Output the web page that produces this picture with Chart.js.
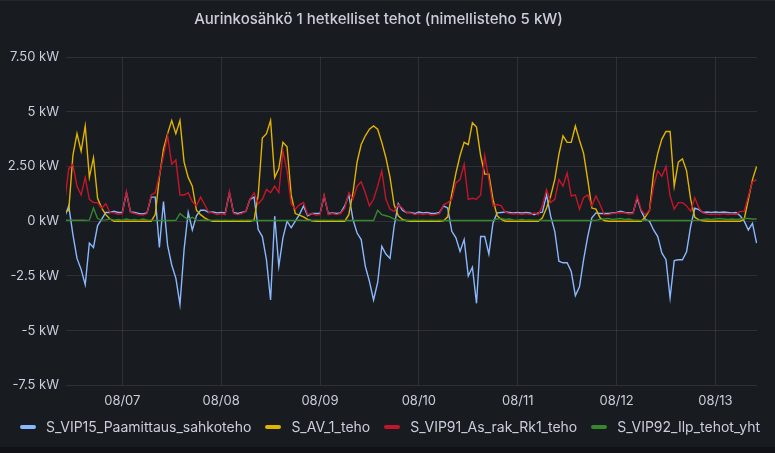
<!DOCTYPE html>
<html>
<head>
<meta charset="utf-8">
<script src="https://cdn.jsdelivr.net/npm/chart.js@4.4.1/dist/chart.umd.min.js"></script>
<style>
  html, body { margin: 0; padding: 0; background: #111217; }
  #panel { position: absolute; left: 0; top: 0; width: 775px; height: 447px; background: #181b1f; border-top: 1px solid #24262b; box-sizing: border-box; }
  #chart { position: absolute; left: 0; top: 0; }
  #legend { position: absolute; left: 20px; top: 418px; display: flex; font: 14px Inter, sans-serif; color: #ccccdc; white-space: nowrap; }
  .item { display: flex; align-items: center; margin-right: 14px; }
  .mark { width: 16px; height: 4px; border-radius: 2px; margin-right: 10px; }
</style>
</head>
<body>
<div id="panel"></div>
<canvas id="chart" width="775" height="447"></canvas>
<div id="legend"></div>
<script>
const chartTitle = "Aurinkosähkö 1 hetkelliset tehot (nimellisteho 5 kW)";

// hourly samples, first sample is 08/06 10:00 (hours counted from 08/06 00:00)
const startHour = 10;

const seriesNames = ["S_VIP15_Paamittaus_sahkoteho", "S_AV_1_teho", "S_VIP91_As_rak_Rk1_teho", "S_VIP92_Ilp_tehot_yht"];
const seriesColors = ["#8AB8FF", "#E0B400", "#C4162A", "#37872D"];

// kW
const vip15 = [
  0.2, 0.7, -0.6, -1.7, -2.2, -2.9, -1.0, -1.2, -0.2, 0.1, 0.4, 0.4, 0.45, 0.4,
  0.4, 1.3, 0.42, 0.4, 0.35, 0.33, 0.38, 1.1, 1.1, -1.2, 0.9, -1.1, -2.0, -2.6, -3.8, -1.3, 0.4, -0.4, 0.25, 0.5, 0.5, 0.4, 0.42, 0.38,
  0.4, 0.38, 1.3, 0.4, 0.35, 0.4, 0.45, 1.0, 1.1, -0.38, -0.7, -1.76, -3.6, 0.23, -2.06, -0.76, 0.0, -0.3, 0.0, 0.3, 0.7, 0.25, 0.35, 0.35,
  0.35, 1.15, 0.35, 0.38, 0.35, 0.38, 0.7, 1.2, 0.08, -0.54, -0.84, -2.06, -2.75, -3.6, -2.8, -1.15, -1.5, -1.7, -0.23, 0.8, 0.5, 0.4, 0.4, 0.35,
  0.42, 0.38, 0.4, 0.35, 0.35, 0.4, 0.7, 0.6, -0.46, -0.76, -1.38, -0.84, -2.5, -2.1, -3.75, -0.7, -0.7, -1.5, -0.08, 0.38, 0.4, 0.42, 0.4, 0.38,
  0.4, 0.38, 0.4, 0.38, 0.3, 0.38, 0.41, 1.2, 0.23, -0.46, -1.83, -1.9, -1.9, -2.3, -3.4, -3.0, -1.76, -0.7, 0.15, 0.38, 0.35, 0.35, 0.35, 0.38,
  0.4, 0.45, 0.4, 0.38, 0.38, 1.05, 0.45, 0.08, 0.0, -0.4, -0.7, -1.45, -1.76, -3.5, -1.8, -1.76, -1.76, -1.4, -0.23, 0.6, 0.53, 0.4, 0.42, 0.4,
  0.42, 0.4, 0.42, 0.4, 0.38, 0.4, 0.25, 0.0, -0.4, -0.1, -1.0
];

const av1 = [
  0.4, 0.5, 3.0, 4.0, 3.2, 4.35, 2.0, 2.9, 1.05, 0.6, 0.3, 0.1, 0, 0,
  0, 0, 0, 0, 0, 0, 0, 0, 0.3, 2.0, 3.3, 4.0, 4.6, 4.0, 4.6, 2.7, 2.0, 1.6, 0.5, 0.3, 0.15, 0.05, 0, 0,
  0, 0, 0, 0, 0, 0, 0, 0, 0.05, 1.2, 3.8, 4.0, 4.6, 2.0, 2.4, 3.6, 3.4, 1.2, 0.35, 0.28, 0.2, 0.08, 0.02, 0,
  0, 0, 0, 0, 0, 0, 0, 0.3, 1.3, 2.7, 3.5, 3.9, 4.2, 4.35, 4.2, 3.6, 2.9, 2.0, 0.75, 0.25, 0.08, 0.02, 0, 0,
  0, 0, 0, 0, 0, 0, 0.02, 0.2, 1.25, 2.2, 3.0, 3.6, 3.5, 4.5, 4.3, 3.0, 2.15, 2.15, 1.0, 0.25, 0.08, 0, 0, 0,
  0, 0, 0, 0, 0, 0, 0.15, 0.6, 1.15, 1.9, 3.05, 3.9, 3.6, 3.6, 4.35, 3.7, 3.1, 1.9, 0.6, 0.55, 0.15, 0.03, 0, 0,
  0, 0, 0, 0, 0, 0, 0, 0.2, 0.5, 2.2, 3.1, 3.75, 4.1, 4.1, 1.6, 2.7, 2.85, 2.3, 1.0, 0.18, 0.06, 0.02, 0, 0,
  0, 0, 0, 0, 0, 0, 0, 0.1, 1.0, 1.9, 2.5
];

const vip91 = [
  0.85, 2.4, 2.6, 1.6, 1.2, 2.0, 1.0, 0.85, 0.85, 0.6, 0.8, 0.4, 0.38, 0.32,
  0.35, 1.35, 0.4, 0.35, 0.3, 0.28, 0.35, 1.2, 1.3, 2.1, 3.0, 3.9, 2.6, 2.8, 1.2, 1.2, 1.3, 0.9, 0.7, 1.1, 0.75, 0.4, 0.38, 0.3,
  0.35, 0.3, 1.35, 0.35, 0.3, 0.35, 0.45, 1.0, 1.3, 0.8, 1.0, 1.45, 1.3, 1.6, 1.3, 3.2, 2.3, 0.8, 0.55, 0.75, 0.85, 0.3, 0.35, 0.28,
  0.3, 1.2, 0.3, 0.35, 0.3, 0.35, 0.6, 1.3, 1.0, 1.6, 1.8, 1.3, 0.7, 1.0, 1.6, 2.3, 1.0, 0.55, 0.45, 0.75, 0.6, 0.4, 0.38, 0.3,
  0.35, 0.3, 0.35, 0.28, 0.3, 0.35, 0.75, 0.85, 1.0, 1.75, 1.9, 2.6, 1.0, 1.05, 1.0, 1.2, 3.0, 1.9, 0.7, 0.76, 0.7, 0.4, 0.35, 0.33,
  0.35, 0.3, 0.35, 0.3, 0.38, 0.3, 0.7, 1.45, 0.85, 1.0, 1.9, 1.6, 2.2, 1.15, 1.2, 0.55, 1.07, 1.2, 0.7, 1.15, 0.76, 0.3, 0.3, 0.35,
  0.38, 0.4, 0.38, 0.33, 0.35, 1.15, 0.5, 0.3, 0.5, 1.6, 2.3, 2.05, 2.5, 1.15, 0.55, 0.85, 0.85, 0.7, 0.45, 1.07, 0.6, 0.38, 0.33, 0.3,
  0.33, 0.3, 0.35, 0.3, 0.33, 0.3, 0.45, 0.45, 1.15, 1.8, 1.9
];

const vip92 = [
  0.04, 0.04, 0.04, 0.04, 0.04, 0.04, 0.05, 0.6, 0.12, 0.05, 0.06, 0.1, 0.05, 0.08,
  0.05, 0.1, 0.06, 0.08, 0.05, 0.1, 0.06, 0.05, 0.04, 0.03, 0.03, 0.03, 0.03, 0.04, 0.35, 0.2, 0.08, 0.18, 0.05, 0.04, 0.04, 0.05, 0.04, 0.05,
  0.04, 0.05, 0.04, 0.05, 0.04, 0.05, 0.04, 0.04, 0.03, 0.03, 0.03, 0.03, 0.03, 0.03, 0.03, 0.03, 0.03, 0.03, 0.04, 0.05, 0.04, 0.05, 0.04, 0.05,
  0.04, 0.05, 0.04, 0.05, 0.04, 0.05, 0.04, 0.03, 0.03, 0.03, 0.03, 0.03, 0.03, 0.03, 0.5, 0.3, 0.25, 0.2, 0.1, 0.05, 0.04, 0.05, 0.04, 0.05,
  0.04, 0.05, 0.04, 0.05, 0.04, 0.05, 0.04, 0.03, 0.03, 0.03, 0.03, 0.03, 0.03, 0.03, 0.03, 0.03, 0.03, 0.03, 0.04, 0.1, 0.12, 0.08, 0.1, 0.06,
  0.05, 0.08, 0.05, 0.06, 0.05, 0.05, 0.04, 0.03, 0.03, 0.03, 0.03, 0.03, 0.03, 0.03, 0.03, 0.03, 0.03, 0.03, 0.03, 0.04, 0.08, 0.1, 0.12, 0.08,
  0.1, 0.12, 0.08, 0.1, 0.06, 0.05, 0.04, 0.05, 0.04, 0.03, 0.03, 0.03, 0.03, 0.03, 0.03, 0.03, 0.03, 0.03, 0.03, 0.04, 0.05, 0.08, 0.1, 0.08,
  0.1, 0.12, 0.1, 0.08, 0.1, 0.08, 0.1, 0.12, 0.12, 0.1, 0.1
];

const dayTicks = [24, 48, 72, 96, 120, 144, 168];
const dayLabels = ["08/07", "08/08", "08/09", "08/10", "08/11", "08/12", "08/13"];
const yTicks = [-7.5, -5, -2.5, 0, 2.5, 5, 7.5];
const yTickLabels = ["-7.5 kW", "-5 kW", "-2.5 kW", "0 kW", "2.50 kW", "5 kW", "7.50 kW"];

const xMin = 10.33;
const xMax = 178.1;

const gridColor = "rgba(204, 204, 220, 0.12)";
const textColor = "#ccccdc";

function toPoints(values) {
  return values.map((v, i) => ({ x: startHour + i, y: v }));
}

function buildLegend() {
  const legendEl = document.getElementById("legend");
  legendEl.innerHTML = seriesNames
    .map((name, i) => `<div class="item"><span class="mark" style="background:${seriesColors[i]}"></span>${name}</div>`)
    .join("");
}

function renderChart() {
  const ctx = document.getElementById("chart").getContext("2d");
  Chart.defaults.font.family = "Inter, sans-serif";

  const allSeries = [vip15, av1, vip91, vip92];
  const datasets = allSeries.map((values, i) => ({
    label: seriesNames[i],
    data: toPoints(values),
    borderColor: seriesColors[i],
    backgroundColor: seriesColors[i],
    borderWidth: 1.4,
    pointRadius: 0,
    tension: 0,
    order: 4 - i,
  }));

  new Chart(ctx, {
    type: "line",
    data: { datasets: datasets },
    options: {
      responsive: false,
      animation: false,
      layout: { padding: { left: 0, right: 18, top: 0, bottom: 30 } },
      plugins: {
        legend: { display: false },
        tooltip: { enabled: false },
        title: {
          display: true,
          text: chartTitle,
          color: textColor,
          font: { size: 15, weight: "500" },
          padding: { top: 10, bottom: 29 },
        },
      },
      scales: {
        x: {
          type: "linear",
          min: xMin,
          max: xMax,
          border: { display: false },
          grid: { color: gridColor, drawTicks: false },
          afterBuildTicks: (scale) => {
            scale.ticks = dayTicks.map((v) => ({ value: v }));
          },
          ticks: {
            color: textColor,
            font: { size: 13 },
            padding: 8,
            autoSkip: false,
            maxRotation: 0,
            callback: (value) => dayLabels[dayTicks.indexOf(value)],
          },
        },
        y: {
          min: -7.5,
          max: 7.5,
          border: { display: false },
          grid: { color: gridColor, drawTicks: false },
          afterBuildTicks: (scale) => {
            scale.ticks = yTicks.map((v) => ({ value: v }));
          },
          afterFit: (scale) => {
            scale.width = 66;
          },
          ticks: {
            color: textColor,
            font: { size: 13 },
            padding: 7,
            callback: (value) => yTickLabels[yTicks.indexOf(value)],
          },
        },
      },
    },
  });
}

buildLegend();
document.fonts.load("13px Inter").then(renderChart, renderChart);
</script>
</body>
</html>
